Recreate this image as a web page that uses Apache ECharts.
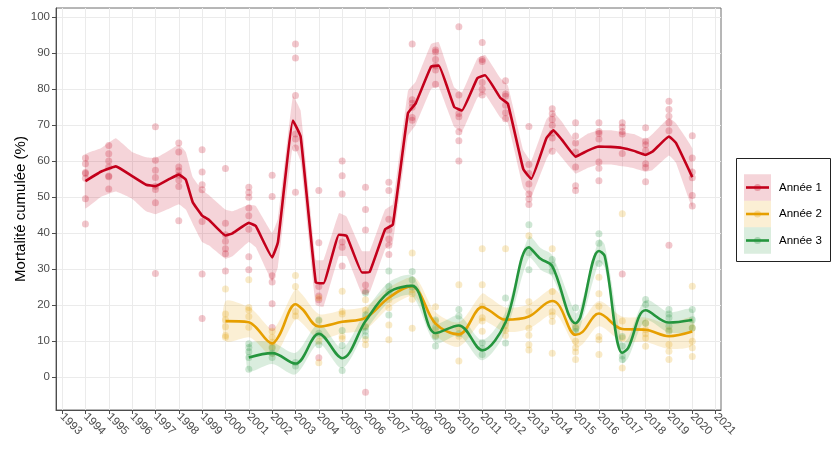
<!DOCTYPE html>
<html>
<head>
<meta charset="utf-8">
<script src="https://cdn.jsdelivr.net/npm/echarts@6/dist/echarts.min.js"></script>
<style>
  html, body { margin: 0; padding: 0; background: #fff; }
  #chart { width: 835px; height: 450px; }
</style>
</head>
<body>
<div id="chart"></div>
<script>
// Axis ticks
const yearTicks = [1993,1994,1995,1996,1997,1998,1999,2000,2001,2002,2003,2004,2005,2006,2007,2008,2009,2010,2011,2012,2013,2014,2015,2016,2017,2018,2019,2020,2021];
const yTicks = [0,10,20,30,40,50,60,70,80,90,100];

const seriesNames = ['Année 1', 'Année 2', 'Année 3'];

// Observed cumulative mortality (%) per year, Année 1
const obsYears1 = [1994,1995,1997,1998,1999,2000,2001,2002,2003,2004,2005,2006,2007,2008,2009,2010,2011,2012,2013,2014,2015,2016,2017,2018,2019,2020];
const obs1 = [
  [60.8,59.2,56.8,56.5,55.2,49.5,42.5],
  [64.3,62.0,60.0,58.3,55.8,55.6,52.2],
  [69.5,60.2,57.4,55.4,53.0,52.1,48.4,28.7],
  [65.0,62.5,58.3,57.3,56.0,54.7,52.9,43.4],
  [63.1,56.9,53.4,52.0,43.2,28.6,16.2],
  [57.9,42.7,39.5,37.7,35.6,34.2,29.4],
  [52.7,51.2,49.9,46.9,44.8,41.0,33.4,29.8],
  [56.0,50.1,28.1,26.4,20.3,13.7],
  [92.5,88.6,78.2,67.5,66.1,63.6,51.3],
  [51.8,37.3,25.1,22.5,21.4,5.3],
  [60.0,55.9,50.8,37.5,36.0,30.8],
  [52.7,46.5,40.8,25.5,23.7,-4.3],
  [54.1,51.8,43.8,40.8,38.3,36.6,34.0],
  [92.5,77.0,76.0,74.9,72.1,71.3],
  [90.8,90.3,88.2,86.4,85.3,81.3],
  [97.3,78.3,73.2,72.3,68.1,65.6,60.0],
  [92.9,88.2,87.6,81.8,79.9,78.3],
  [82.3,78.6,78.0,75.5,73.4,71.7],
  [69.6,59.0,56.5,53.6,50.8,49.4,47.9],
  [74.5,73.1,71.5,69.9,67.8,66.4,62.7],
  [70.6,66.9,65.0,62.5,58.3,53.1,51.8],
  [70.6,68.2,67.6,66.1,59.7,58.0,54.5],
  [70.6,69.4,68.2,67.5,62.1,28.6],
  [69.2,65.5,64.5,62.9,59.2,58.2,54.2],
  [76.6,74.3,72.4,70.6,68.4,36.6],
  [67.0,60.8,56.9,55.3,50.4,47.5]
];

// Observed values, Année 2
const obsYears2 = [2000,2001,2002,2003,2004,2005,2006,2007,2008,2009,2010,2011,2012,2013,2014,2015,2016,2017,2018,2019,2020];
const obs2 = [
  [24.4,17.5,15.9,13.9,11.5,11.0],
  [27.0,19.3,18.6,16.8,13.8],
  [12.7,11.0,9.6,8.4],
  [28.2,25.1,18.2,16.9],
  [22.0,15.5,9.9,3.9],
  [23.8,18.2,17.5,11.3,10.6],
  [21.4,18.5,14.1,10.4,8.9],
  [21.4,19.2,14.4,10.3],
  [34.4,24.2,23.1,21.6,13.5],
  [19.5,15.4,13.1,11.5],
  [25.6,13.6,11.3,4.4],
  [35.6,25.6,19.6,16.4,15.5,12.7],
  [35.6,15.6,14.3,12.9,11.5],
  [39.2,20.9,18.2,13.5,11.6,8.9,7.5],
  [35.6,23.7,18.1,17.0,15.4,6.6],
  [14.0,9.9,8.1,6.9,4.8],
  [27.7,23.1,19.6,11.2,10.3,6.2],
  [45.3,15.5,10.8,2.5],
  [15.0,13.1,12.0,10.8,8.5],
  [13.0,9.0,7.1,4.8],
  [25.2,13.6,9.9,8.1,5.7]
];

// Observed values, Année 3
const obsYears3 = [2001,2002,2003,2004,2005,2006,2007,2008,2009,2010,2011,2012,2013,2014,2015,2016,2017,2018,2019,2020];
const obs3 = [
  [9.2,8.2,7.0,5.4,2.1],
  [8.0,6.6,5.4],
  [4.0,3.0],
  [15.8,12.1,8.9],
  [12.9,8.7,1.8],
  [23.3,17.3,13.8,12.7,11.4],
  [29.4,25.1,23.5,17.2],
  [29.3,27.0,25.0],
  [15.8,13.7,11.2,8.6],
  [18.7,16.9,12.0],
  [9.5,7.9,6.2],
  [21.9,9.4],
  [42.3,34.5,29.8],
  [32.6,31.0,29.4],
  [19.2,13.5,12.6],
  [39.8,37.1,31.5],
  [11.2,8.6,5.8,4.8],
  [21.5,20.1,14.9],
  [18.7,17.5,16.4,14.1,12.7],
  [18.7,15.9,13.6]
];

// Smoothed trend with its confidence band: x, fit, lower, upper
const fitX1 = [1994,1994.66,1995.3,1996,1996.6,1997,1997.6,1998,1998.3,1998.6,1999,1999.3,2000,2000.3,2001,2001.3,2002,2002.25,2002.89,2003.22,2003.87,2004.2,2004.86,2005.19,2005.85,2006.18,2006.84,2007.17,2007.82,2008.15,2008.81,2009.14,2009.8,2010.13,2010.79,2011.12,2011.78,2012.1,2012.76,2013.1,2013.75,2014.05,2014.4,2015,2015.5,2016,2016.5,2017,2017.5,2018,2018.3,2019,2019.3,2020];
const fit1 = [54.4,57.0,58.5,55.8,53.4,53.0,55.0,56.2,54.8,48.5,44.8,43.6,39.3,39.9,42.8,41.9,33.2,37.5,71.2,66.8,26.2,26.0,39.5,39.2,29.0,29.2,41.0,42.3,73.3,76.0,86.2,86.5,75.0,74.0,83.0,83.8,77.5,75.9,57.7,55.0,66.3,68.5,66.0,61.2,62.8,64.0,63.9,63.6,62.8,61.7,62.6,66.8,65.0,55.5];
const lo1 = [46.8,50.0,51.5,49.5,46.0,45.2,46.8,48.0,46.5,42.5,37.5,36.5,32.8,33.5,37.5,36.0,26.5,30.5,64.5,60.0,20.0,19.5,33.5,33.5,23.0,23.5,35.5,37.0,67.0,70.0,80.0,80.5,69.5,68.0,77.5,78.5,72.0,70.5,52.5,50.0,60.5,63.5,61.0,56.5,58.0,59.0,59.0,58.5,58.0,57.0,57.5,61.5,59.5,47.0];
const hi1 = [61.8,63.5,66.3,62.5,61.0,60.8,63.0,64.5,62.5,55.5,52.0,50.5,46.5,46.0,47.8,47.5,40.0,44.0,78.0,74.0,32.5,32.5,45.5,44.5,35.0,35.0,46.5,48.0,79.5,82.0,92.5,93.0,80.5,79.0,88.5,89.5,83.0,81.0,63.0,60.0,71.5,73.5,71.0,65.5,67.5,68.5,68.5,68.0,67.5,66.0,67.5,72.0,70.5,63.5];

const fitX2 = [2000,2001,2001.3,2002,2002.3,2003,2003.3,2004,2005,2006,2007,2008,2008.3,2009,2010,2011,2011.3,2012,2013,2014,2014.3,2015,2015.3,2016,2017,2018,2019,2020];
const fit2 = [15.5,15.2,13.8,9.3,11.5,20.2,18.8,14.0,15.3,16.4,22.0,25.2,23.5,14.8,11.8,19.4,18.5,15.9,16.8,21.1,19.8,11.7,12.5,17.6,13.3,13.1,11.3,12.6];
const lo2 = [10.0,11.0,9.8,5.5,7.5,16.0,14.8,10.5,12.1,13.2,19.2,22.6,20.7,11.6,8.4,15.6,14.9,12.5,13.4,17.6,16.4,8.2,9.1,14.1,9.8,9.7,7.8,8.8];
const hi2 = [21.0,19.4,17.8,13.1,15.5,24.4,22.8,17.5,18.5,19.6,24.8,27.8,26.3,18.0,15.2,23.2,22.1,19.3,20.2,24.6,23.2,15.2,15.9,21.1,16.8,16.5,14.8,16.4];

const fitX3 = [2001,2002,2003,2004,2005,2006,2007,2008,2009,2010,2011,2012,2013,2013.5,2014,2015,2015.2,2016,2016.25,2017,2017.25,2018,2019,2020];
const fit3 = [5.4,6.6,3.7,12.0,5.2,15.5,23.5,25.3,12.2,14.3,7.4,15.2,36.0,32.8,30.8,14.9,16.5,35.0,33.5,6.7,8.0,18.5,15.1,15.8];
const lo3 = [1.6,3.6,0.7,9.2,2.4,12.7,20.7,22.5,9.4,11.5,4.6,12.4,33.0,29.8,27.8,12.1,13.7,31.8,30.3,3.9,5.2,15.7,12.3,12.8];
const hi3 = [9.2,9.6,6.7,14.8,8.0,18.3,26.3,28.1,15.0,17.1,10.2,18.0,39.0,35.8,33.8,17.7,19.3,38.2,36.7,9.5,10.8,21.3,17.9,18.8];

const colors = ['#C3001B', '#E69F00', '#24953D'];
const FONT = 'Liberation Sans, Arial, sans-serif';

function rgba(hex, a) {
  const n = parseInt(hex.slice(1), 16);
  return 'rgba(' + (n >> 16) + ',' + ((n >> 8) & 255) + ',' + (n & 255) + ',' + a + ')';
}

function flattenObs(years, obs) {
  const out = [];
  years.forEach((yr, i) => obs[i].forEach(v => out.push([yr, v])));
  return out;
}

const groups = [
  { x: fitX1, fit: fit1, lo: lo1, hi: hi1, years: obsYears1, obs: obs1, smooth: 0.1 },
  { x: fitX2, fit: fit2, lo: lo2, hi: hi2, years: obsYears2, obs: obs2, smooth: 0.35 },
  { x: fitX3, fit: fit3, lo: lo3, hi: hi3, years: obsYears3, obs: obs3, smooth: 0.35 }
];

const series = [];
// confidence bands: one polygon per group, upper edge then lower edge reversed
groups.forEach((g, i) => {
  series.push({
    type: 'custom', silent: true, clip: true,
    encode: { x: 0, y: [1, 2] },
    data: g.x.map((x, k) => [x, g.lo[k], g.hi[k]]),
    renderItem: (params, api) => {
      if (params.dataIndex !== 0) return null;
      const pts = [];
      for (let k = 0; k < g.x.length; k++) pts.push(api.coord([g.x[k], g.hi[k]]));
      for (let k = g.x.length - 1; k >= 0; k--) pts.push(api.coord([g.x[k], g.lo[k]]));
      return {
        type: 'polygon',
        shape: { points: pts, smooth: g.smooth * 0.8 },
        style: { fill: rgba(colors[i], 0.17) },
        silent: true
      };
    }
  });
});
// observations
groups.forEach((g, i) => {
  series.push({
    type: 'scatter', symbol: 'circle', symbolSize: 7, silent: true,
    itemStyle: { color: rgba(colors[i], 0.28) },
    data: flattenObs(g.years, g.obs)
  });
});
// smoothed trend lines
groups.forEach((g, i) => {
  series.push({
    name: seriesNames[i], type: 'line', symbol: 'none', smooth: g.smooth,
    lineStyle: { color: colors[i], width: 2.6 },
    data: g.x.map((x, k) => [x, g.fit[k]])
  });
});

// legend keys
const legendItems = [];
seriesNames.forEach((name, i) => {
  const cy = 187.5 + i * 26.5;
  legendItems.push(
    { type: 'rect', shape: { x: 744, y: cy - 13.25, width: 27, height: 26.5 }, style: { fill: rgba(colors[i], 0.17) } },
    { type: 'line', shape: { x1: 746, y1: cy, x2: 769, y2: cy }, style: { stroke: colors[i], lineWidth: 2.6 } },
    { type: 'circle', shape: { cx: 757.5, cy: cy, r: 3.5 }, style: { fill: rgba(colors[i], 0.28) } },
    { type: 'text', x: 779, y: cy, style: { text: name, font: '11.5px ' + FONT, fill: '#000', verticalAlign: 'middle', align: 'left' } }
  );
});

const chart = echarts.init(document.getElementById('chart'), null, { renderer: 'canvas' });
chart.setOption({
  animation: false,
  backgroundColor: '#fff',
  textStyle: { fontFamily: FONT },
  grid: { left: 56, right: 114, top: 8, bottom: 40, show: true, borderColor: '#6e6e6e', borderWidth: 1 },
  xAxis: {
    type: 'value', min: 1992.74, max: 2021.23,
    axisLine: { show: true, onZero: false, lineStyle: { color: '#4d4d4d', width: 1 } },
    axisTick: { show: true, customValues: yearTicks, length: 4, lineStyle: { color: '#4d4d4d' } },
    axisLabel: { customValues: yearTicks, rotate: -45, margin: 5, fontSize: 11.5, color: '#4d4d4d', fontFamily: FONT, formatter: v => String(v) },
    splitLine: { show: true, lineStyle: { color: '#ebebeb', width: 1 } }
  },
  yAxis: {
    type: 'value', min: -9.2, max: 102.5,
    name: 'Mortalité cumulée (%)', nameLocation: 'middle', nameGap: 28, nameMoveOverlap: false,
    nameTextStyle: { fontSize: 15, color: '#000', fontFamily: FONT },
    axisLine: { show: true, onZero: false, lineStyle: { color: '#4d4d4d', width: 1 } },
    axisTick: { show: true, customValues: yTicks, length: 4, lineStyle: { color: '#4d4d4d' } },
    axisLabel: { customValues: yTicks, margin: 6, fontSize: 11.5, color: '#4d4d4d', fontFamily: FONT },
    splitLine: { show: true, lineStyle: { color: '#ebebeb', width: 1 } }
  },
  series: series,
  graphic: [
    { type: 'rect', shape: { x: 736.5, y: 158.5, width: 94, height: 103 }, style: { fill: '#fff', stroke: '#222', lineWidth: 1 } },
    { type: 'group', children: legendItems }
  ]
});
</script>
</body>
</html>
